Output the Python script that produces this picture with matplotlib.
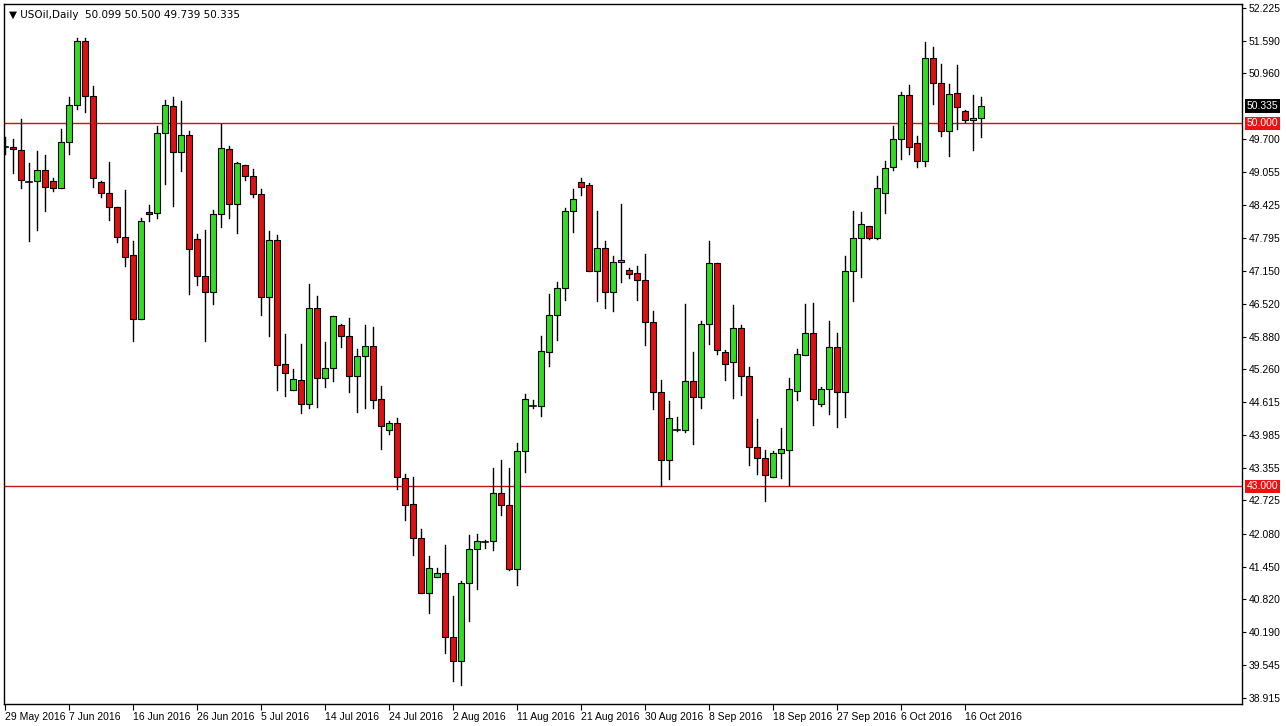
import matplotlib
matplotlib.use('Agg')
import matplotlib.pyplot as plt
from matplotlib.patches import Rectangle

plt.rcParams['font.family'] = ['Liberation Sans', 'DejaVu Sans']

# daily USOil candles, 29 May 2016 .. 19 Oct 2016
opens = [49.55, 49.55, 49.48, 48.88, 48.88, 49.09, 48.88, 48.75, 49.63, 50.36,
         51.59, 50.53, 48.86, 48.65, 48.38, 47.80, 47.46, 46.23, 48.28, 48.26,
         49.82, 50.34, 49.44, 49.78, 47.77, 47.05, 46.75, 48.25, 49.51, 48.44,
         49.19, 48.98, 48.63, 46.65, 47.75, 45.36, 44.86, 45.05, 44.59, 46.44,
         45.09, 45.28, 46.11, 45.90, 45.13, 45.51, 45.71, 44.69, 44.09, 44.21,
         43.15, 42.65, 42.01, 40.94, 41.25, 41.32, 40.09, 39.63, 41.13, 41.78,
         41.94, 41.94, 42.86, 42.63, 41.40, 43.67, 44.55, 44.55, 45.59, 46.30,
         46.82, 48.30, 48.86, 48.80, 47.15, 47.59, 46.75, 47.32, 47.17, 47.11,
         46.98, 46.17, 44.82, 43.51, 44.09, 44.09, 45.03, 44.73, 46.13, 47.30,
         45.59, 45.40, 46.05, 45.13, 43.75, 43.55, 43.17, 43.65, 43.69, 44.84,
         45.53, 45.96, 44.59, 44.88, 45.69, 44.82, 47.15, 47.78, 48.01, 47.78,
         48.65, 49.15, 49.69, 50.55, 49.61, 49.28, 51.26, 50.78, 49.86, 50.59,
         50.23, 50.07, 50.099]
highs = [49.73, 49.69, 50.09, 49.23, 49.46, 49.38, 48.94, 49.88, 50.51, 51.65,
         51.65, 50.71, 48.88, 49.26, 48.38, 48.71, 47.73, 48.17, 48.42, 49.94,
         50.44, 50.51, 50.42, 49.86, 47.86, 47.94, 48.32, 49.98, 49.57, 49.25,
         49.19, 49.11, 48.73, 47.92, 47.84, 45.94, 45.26, 45.75, 46.90, 46.67,
         45.78, 46.28, 46.13, 46.25, 45.65, 46.11, 46.07, 44.94, 44.26, 44.32,
         43.23, 43.17, 42.17, 41.65, 41.42, 41.86, 40.88, 41.17, 42.05, 42.07,
         41.96, 43.36, 43.50, 43.36, 43.84, 44.77, 44.67, 45.90, 46.71, 46.94,
         48.36, 48.73, 48.94, 48.84, 48.30, 47.73, 47.44, 48.44, 47.21, 47.25,
         47.48, 46.38, 45.05, 44.65, 44.34, 46.51, 45.59, 46.19, 47.73, 47.30,
         45.63, 46.50, 46.11, 45.30, 44.30, 43.69, 43.67, 44.13, 45.09, 45.65,
         46.51, 46.53, 44.92, 46.19, 45.96, 47.44, 48.30, 48.28, 48.01, 48.99,
         49.28, 49.94, 50.61, 50.73, 49.75, 51.57, 51.48, 51.15, 50.76, 51.13,
         50.25, 50.55, 50.500]
lows = [49.40, 49.05, 48.75, 47.73, 47.94, 48.30, 48.69, 48.75, 49.40, 50.28,
        50.21, 48.78, 48.57, 48.13, 47.71, 47.25, 45.80, 46.23, 48.11, 48.17,
        48.82, 48.40, 49.07, 46.71, 46.88, 45.80, 46.51, 48.00, 48.17, 47.88,
        48.90, 48.57, 46.30, 45.90, 44.86, 44.74, 44.86, 44.42, 44.51, 44.53,
        44.92, 45.02, 45.69, 44.82, 44.44, 44.51, 44.50, 43.71, 44.01, 42.94,
        42.34, 41.67, 40.94, 40.55, 41.25, 39.78, 39.24, 39.17, 40.40, 41.01,
        41.80, 41.77, 42.44, 41.38, 41.09, 43.28, 44.51, 44.36, 45.32, 45.82,
        46.59, 47.90, 48.61, 47.15, 46.57, 46.44, 46.38, 46.94, 47.01, 46.59,
        45.73, 44.48, 43.01, 43.13, 44.07, 44.05, 43.82, 44.51, 45.74, 45.55,
        45.05, 44.71, 44.75, 43.40, 43.23, 42.71, 43.17, 43.15, 43.03, 44.67,
        45.53, 44.19, 44.55, 44.40, 44.15, 44.34, 46.57, 47.03, 47.77, 47.77,
        48.26, 49.09, 49.32, 49.40, 49.15, 49.17, 50.38, 49.75, 49.36, 49.88,
        50.03, 49.48, 49.739]
closes = [49.55, 49.50, 48.90, 48.87, 49.09, 48.78, 48.75, 49.63, 50.36, 51.59,
          50.53, 48.94, 48.65, 48.38, 47.80, 47.42, 46.23, 48.11, 48.25, 49.82,
          50.36, 49.44, 49.78, 47.57, 47.05, 46.75, 48.25, 49.53, 48.44, 49.23,
          48.98, 48.63, 46.65, 47.75, 45.34, 45.19, 45.07, 44.59, 46.44, 45.09,
          45.28, 46.28, 45.90, 45.13, 45.51, 45.71, 44.67, 44.17, 44.21, 43.17,
          42.63, 42.01, 40.94, 41.42, 41.32, 40.09, 39.63, 41.13, 41.78, 41.94,
          41.93, 42.86, 42.63, 41.40, 43.67, 44.69, 44.55, 45.61, 46.30, 46.82,
          48.30, 48.53, 48.78, 47.15, 47.59, 46.75, 47.32, 47.36, 47.09, 46.98,
          46.17, 44.82, 43.51, 44.32, 44.09, 45.03, 44.73, 46.13, 47.30, 45.63,
          45.36, 46.05, 45.13, 43.75, 43.55, 43.21, 43.65, 43.71, 44.88, 45.55,
          45.96, 44.69, 44.88, 45.69, 44.82, 47.15, 47.78, 48.05, 47.78, 48.76,
          49.13, 49.69, 50.55, 49.55, 49.28, 51.26, 50.78, 49.86, 50.57, 50.32,
          50.07, 50.11, 50.335]

date_labels = ['29 May 2016', '7 Jun 2016', '16 Jun 2016', '26 Jun 2016', '5 Jul 2016',
               '14 Jul 2016', '24 Jul 2016', '2 Aug 2016', '11 Aug 2016', '21 Aug 2016',
               '30 Aug 2016', '8 Sep 2016', '18 Sep 2016', '27 Sep 2016', '6 Oct 2016',
               '16 Oct 2016']
price_ticks = [52.225, 51.590, 50.960, 49.700, 49.055, 48.425, 47.795, 47.150, 46.520,
               45.880, 45.260, 44.615, 43.985, 43.355, 42.725, 42.080, 41.450,
               40.820, 40.190, 39.545, 38.915]
levels = [50.0, 43.0]

GREEN = '#33dd22'
RED = '#dd1111'

fig = plt.figure(figsize=(12.86, 7.26), dpi=100)
fig.patch.set_facecolor('white')
ax = fig.add_axes([4 / 1286, 22 / 726, 1238 / 1286, 700 / 726])
ax.set_facecolor('white')

w = 0.7
for i in range(len(opens)):
    o, h, l, c = opens[i], highs[i], lows[i], closes[i]
    ax.plot([i, i], [l, h], color='black', lw=1, zorder=2)
    if abs(c - o) < 0.02:
        ax.plot([i - w / 2, i + w / 2], [c, c], color='black', lw=1.2, zorder=3)
    else:
        col = GREEN if c > o else RED
        ax.add_patch(Rectangle((i - w / 2, min(o, c)), w, abs(c - o),
                               facecolor=col, edgecolor='black', lw=0.8, zorder=3))

for lev in levels:
    ax.axhline(lev, color='#cc1111', lw=1, zorder=1)

ax.set_xlim(-0.125, 154.6)
ax.set_ylim(38.80, 52.30)

# x axis: a label every 8 bars, text starts right of the tick
ax.set_xticks(range(0, 8 * len(date_labels), 8))
ax.set_xticklabels(date_labels, fontsize=7.5, ha='left')
ax.tick_params(axis='x', length=4, direction='out', pad=2)

ax.yaxis.tick_right()
ax.set_yticks(price_ticks)
ax.set_yticklabels(['%.3f' % p for p in price_ticks], fontsize=7.5)
ax.tick_params(axis='y', length=3, direction='out', pad=2)
for sp in ax.spines.values():
    sp.set_color('black')
    sp.set_linewidth(1)

# price boxes on the right axis
for val, txt, bg in [(50.335, '50.335', 'black'), (50.0, '50.000', '#ee1111'),
                     (43.0, '43.000', '#ee1111')]:
    ax.text(1.0035, val, txt, transform=ax.get_yaxis_transform(), fontsize=7.5,
            color='white', va='center', ha='left',
            bbox=dict(facecolor=bg, edgecolor='none', pad=1.2))

ax.text(0.004, 0.992, '\u25bc USOil,Daily  50.099 50.500 49.739 50.335',
        transform=ax.transAxes, fontsize=7.5, va='top', ha='left',
        family=['DejaVu Sans'])

fig.savefig('out.png', dpi=100, facecolor='white')
